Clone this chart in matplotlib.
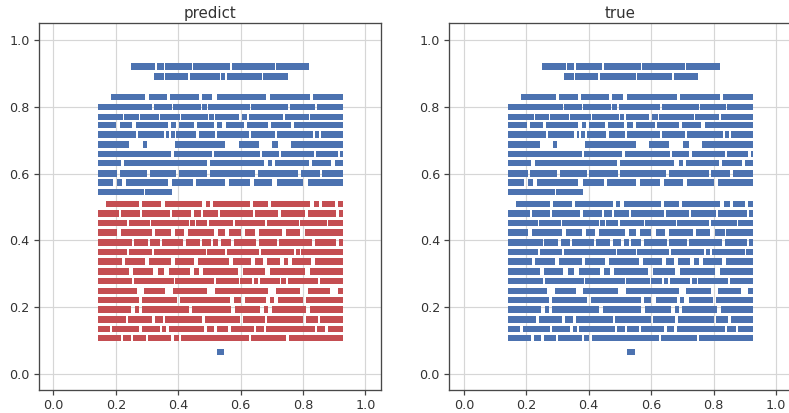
import matplotlib
matplotlib.use('Agg')
import matplotlib.pyplot as plt

# y of every row
row_y = [0.92, 0.89, 0.83, 0.80, 0.77, 0.745, 0.717, 0.687, 0.659, 0.631, 0.60, 0.573, 0.545,
         0.509, 0.48, 0.452, 0.424, 0.393, 0.365, 0.337, 0.307, 0.279, 0.249, 0.221, 0.193,
         0.163, 0.135, 0.107, 0.065]

# predicted class of every row, 1 = upper cluster, 0 = lower cluster
row_predict = [1, 1, 1, 1, 1, 1, 1, 1, 1, 1, 1, 1, 1,
               0, 0, 0, 0, 0, 0, 0, 0, 0, 0, 0, 0,
               0, 0, 0, 1]

# occupied x ranges in every row
row_spans = [
    [(.250, .326), (.331, .353), (.358, .444), (.448, .566), (.571, .709), (.712, .820)],
    [(.321, .353), (.357, .431), (.437, .534), (.537, .550), (.555, .667), (.672, .751)],
    [(.183, .294), (.305, .364), (.375, .465), (.475, .509), (.523, .682), (.693, .821), (.831, .928)],
    [(.142, .316), (.321, .379), (.382, .472), (.475, .491), (.496, .630), (.634, .753), (.757, .840), (.844, .928)],
    [(.142, .224), (.227, .273), (.277, .338), (.341, .407), (.410, .496), (.500, .514), (.518, .594),
     (.604, .621), (.626, .736), (.741, .818), (.823, .928)],
    [(.142, .201), (.213, .253), (.264, .366), (.377, .392), (.402, .451), (.461, .514), (.523, .541),
     (.553, .612), (.619, .688), (.698, .761), (.772, .928)],
    [(.142, .264), (.270, .354), (.361, .370), (.376, .389), (.394, .456), (.465, .517), (.523, .628),
     (.634, .709), (.715, .831), (.837, .850), (.857, .928)],
    [(.142, .243), (.286, .299), (.389, .550), (.594, .658), (.702, .721), (.763, .928)],
    [(.142, .377), (.386, .507), (.515, .661), (.667, .723), (.731, .836), (.842, .912), (.920, .928)],
    [(.142, .216), (.227, .491), (.501, .674), (.688, .702), (.711, .818), (.828, .890), (.901, .928)],
    [(.142, .204), (.213, .299), (.308, .394), (.402, .493), (.501, .647), (.656, .785), (.793, .853), (.861, .928)],
    [(.142, .191), (.205, .220), (.234, .366), (.380, .448), (.458, .550), (.564, .629), (.642, .702),
     (.715, .801), (.815, .928)],
    [(.142, .291), (.294, .380)],
    [(.167, .275), (.285, .345), (.356, .477), (.488, .501), (.512, .631), (.640, .688), (.698, .822),
     (.834, .852), (.861, .901), (.912, .928)],
    [(.142, .211), (.218, .277), (.283, .373), (.380, .442), (.450, .474), (.480, .529), (.534, .640),
     (.647, .721), (.728, .807), (.815, .906), (.915, .928)],
    [(.142, .236), (.241, .310), (.313, .434), (.437, .453), (.456, .493), (.499, .577), (.581, .679),
     (.683, .787), (.791, .876), (.880, .928)],
    [(.142, .205), (.218, .315), (.327, .377), (.391, .419), (.432, .515), (.529, .550), (.564, .601),
     (.615, .645), (.658, .734), (.744, .790), (.805, .837), (.840, .928)],
    [(.142, .253), (.258, .302), (.311, .340), (.347, .416), (.424, .469), (.477, .505), (.513, .529),
     (.536, .569), (.578, .650), (.658, .715), (.723, .828), (.837, .906), (.915, .928)],
    [(.142, .237), (.243, .315), (.322, .488), (.491, .550), (.555, .658), (.664, .771), (.776, .790),
     (.795, .901), (.904, .928)],
    [(.142, .219), (.229, .292), (.305, .377), (.389, .451), (.464, .562), (.575, .634), (.647, .672),
     (.686, .725), (.739, .753), (.766, .826), (.839, .928)],
    [(.142, .243), (.255, .318), (.334, .354), (.370, .437), (.450, .467), (.480, .591), (.607, .677),
     (.693, .806), (.821, .928)],
    [(.142, .253), (.259, .386), (.389, .515), (.520, .596), (.599, .636), (.642, .655), (.661, .725),
     (.731, .746), (.751, .848), (.853, .928)],
    [(.142, .267), (.291, .358), (.382, .493), (.518, .688), (.712, .791), (.815, .887), (.912, .928)],
    [(.142, .273), (.283, .396), (.407, .566), (.578, .600), (.615, .682), (.694, .706), (.721, .799), (.809, .928)],
    [(.142, .248), (.260, .273), (.283, .434), (.445, .569), (.581, .663), (.675, .688), (.699, .811), (.823, .928)],
    [(.142, .232), (.240, .315), (.324, .350), (.359, .477), (.485, .599), (.607, .677), (.686, .801),
     (.809, .848), (.855, .928)],
    [(.142, .181), (.188, .275), (.283, .340), (.348, .361), (.370, .483), (.491, .515), (.523, .561),
     (.569, .642), (.650, .674), (.682, .837), (.844, .871), (.880, .928)],
    [(.142, .216), (.223, .248), (.255, .296), (.302, .377), (.386, .402), (.410, .626), (.633, .747), (.755, .928)],
    [(.523, .547)],
]

titles = ['predict', 'true']
ticks = [0.0, 0.2, 0.4, 0.6, 0.8, 1.0]
BLUE = '#4c72b0'
RED = '#c44e52'
ROW_H = 0.0195

W, H = 789, 413
fig = plt.figure(figsize=(W / 100, H / 100), dpi=100)
ax1 = fig.add_axes([38.5 / W, 1 - 390.3 / H, 342.5 / W, 367 / H])
ax2 = fig.add_axes([449 / W, 1 - 390.3 / H, 342.5 / W, 367 / H])

for ax, title in zip([ax1, ax2], titles):
    for y, spans, label in zip(row_y, row_spans, row_predict):
        bars = [(a, b - a) for a, b in spans]
        if title == 'predict' and label == 0:
            color = RED
        else:
            color = BLUE
        ax.broken_barh(bars, (y - ROW_H / 2, ROW_H), facecolors=color, linewidth=0)
    ax.set_xlim(-0.048, 1.05)
    ax.set_ylim(-0.049, 1.05)
    ax.set_xticks(ticks)
    ax.set_yticks(ticks)
    ax.set_axisbelow(True)
    ax.grid(True, color='#d6d6d6', linewidth=0.85)
    ax.tick_params(colors='#333333', labelsize=9.2, length=3.5, width=0.9, pad=3, color='#444444')
    for s in ax.spines.values():
        s.set_color('#484848')
        s.set_linewidth(0.95)
    ax.set_title(title, fontsize=10.8, color='#333333', pad=3.5)

fig.savefig('out.png', dpi=100)
